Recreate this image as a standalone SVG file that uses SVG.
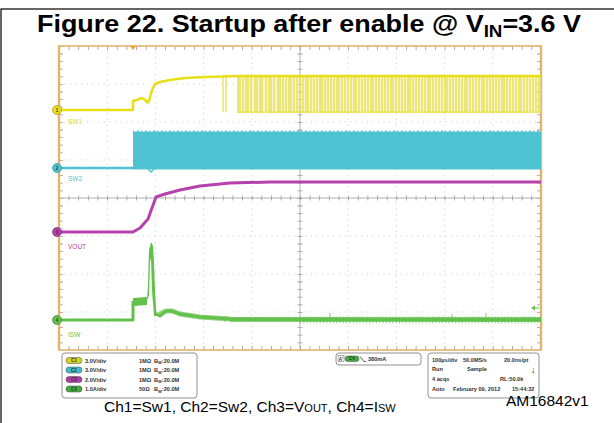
<svg xmlns="http://www.w3.org/2000/svg" width="614" height="423" viewBox="0 0 614 423">
<style>
.t{font-family:"Liberation Sans",Arial,sans-serif}
.lg{font-family:"Liberation Sans",Arial,sans-serif;font-size:5.6px;font-weight:bold;fill:#333}
.grid{stroke:#b8b8b8;stroke-width:0.8;stroke-dasharray:0.9 4.7;fill:none}
.tick{stroke:#9a9a9a;fill:none}
.pill{stroke:#444;stroke-width:0.5}
.pt{font-family:"Liberation Sans",Arial,sans-serif;font-size:4.5px;font-weight:bold;fill:#333;text-anchor:middle}
.box{fill:#fff;stroke:#777;stroke-width:0.8}
</style>
<rect width="614" height="423" fill="#fff"/>
<rect x="1" y="9" width="640" height="440" fill="none" stroke="#000" stroke-width="1.2"/>
<text class="t" x="309" y="32" font-size="23" font-weight="bold" text-anchor="middle" textLength="544" lengthAdjust="spacingAndGlyphs">Figure 22. Startup after enable @ V<tspan font-size="16" dy="5">IN</tspan><tspan dy="-5">=3.6 V</tspan></text>

<g id="plot">
  <rect x="59" y="46" width="482" height="304" fill="#fff"/>
  <g id="grid">
    <path class="grid" d="M107.2,46V350M155.4,46V350M203.6,46V350M251.8,46V350M348.2,46V350M396.4,46V350M444.6,46V350M492.8,46V350"/>
    <path class="grid" d="M59,84H541M59,122H541M59,160H541M59,236H541M59,274H541M59,312H541"/>
    <path d="M300,46V350M59,198H541" stroke="#a0a0a0" stroke-width="0.8"/>
    <path class="tick" d="M300,46V350" stroke-width="5" stroke-dasharray="0.8 6.8"/>
    <path class="tick" d="M59,198H541" stroke-width="5" stroke-dasharray="0.8 8.84"/>
    <path class="tick" d="M59,48H541M59,348H541" stroke-width="4" stroke-dasharray="0.8 8.84"/>
    <path class="tick" d="M61,46V350M539,46V350" stroke-width="4" stroke-dasharray="0.8 6.8"/>
  </g>
  <rect x="59" y="46" width="482" height="304" fill="none" stroke="#e2b56c" stroke-width="1.6"/>
  <path d="M59,46V350M541,46V350" stroke="#e2b56c" stroke-width="2.4"/>
  <path d="M130,46H136L133,50Z" fill="#f0a030"/>
</g>

<g id="ch1">
  <rect x="237" y="77" width="304" height="36" fill="#f3efa6" opacity="0.55"/>
  <path d="M223,77V112M226,77V112M238,77V113M240,77V113M243,77V113M246,77V113M248,77V113M251,77V113M255,77V113M257,77V113M260,77V113M262,77V113M266,77V113M269,77V113M271,77V113M274,77V113M278,77V113M280,77V113M283,77V113M286,77V113M289,77V113M291,77V113M294,77V113M297,77V113M300,77V113M303,77V113M306,77V113M308,77V113M311,77V113M314,77V113M317,77V113M320,77V113M322,77V113M325,77V113M328,77V113M331,77V113M334,77V113M337,77V113M339,77V113M342,77V113M345,77V113M348,77V113M351,77V113M354,77V113M356,77V113M359,77V113M362,77V113M365,77V113M368,77V113M371,77V113M373,77V113M376,77V113M379,77V113M382,77V113M385,77V113M388,77V113M391,77V113M393,77V113M396,77V113M399,77V113M402,77V113M405,77V113M408,77V113M410,77V113M413,77V113M416,77V113M419,77V113M422,77V113M425,77V113M428,77V113M430,77V113M433,77V113M436,77V113M439,77V113M442,77V113M445,77V113M447,77V113M450,77V113M453,77V113M456,77V113M459,77V113M462,77V113M465,77V113M467,77V113M470,77V113M473,77V113M476,77V113M479,77V113M482,77V113M484,77V113M487,77V113M490,77V113M493,77V113M496,77V113M499,77V113M502,77V113M504,77V113M507,77V113M510,77V113M513,77V113M516,77V113M519,77V113M521,77V113M524,77V113M527,77V113M530,77V113M533,77V113M536,77V113M539,77V113" stroke="#e2d92a" stroke-width="1.2" opacity="0.85"/>
  <path d="M238,112H541" stroke="#e8df1a" stroke-width="1.4" stroke-dasharray="2 1" opacity="0.8"/>
  <path d="M59,110L133,110L133,101L137,100L141,98L144,99L147,102L149,101L152,90L155,84L160,82L170,80L185,78L205,77L240,76L541,76" fill="none" stroke="#e8df1a" stroke-width="2.6" stroke-linejoin="round"/>
  <path d="M147,100V105M149,100V104" stroke="#e8df1a" stroke-width="0.8"/>
  <circle cx="57" cy="110" r="4.5" fill="#e8df1a" stroke="#8a8420" stroke-width="0.6"/>
  <text class="pt" x="57" y="111.7">1</text>
  <text class="t" x="68" y="124" font-size="6.5" fill="#e0d630">SW1</text>
</g>

<g id="ch2">
  <path d="M59,168H133" stroke="#4fc3d1" stroke-width="2.6"/>
  <rect x="133" y="131.5" width="408" height="38" fill="#4fc3d1"/>
  <path d="M133,131H541" stroke="#4fc3d1" stroke-width="1.5" stroke-dasharray="1 3 2 2" opacity="0.8"/>
  <path d="M148,133L151,136L154,133M148,169L151,172L154,169" fill="none" stroke="#4fc3d1" stroke-width="1.5"/>
  <circle cx="57" cy="168" r="4.5" fill="#4fc3d1" stroke="#2a7f88" stroke-width="0.6"/>
  <text class="pt" x="57" y="169.7">2</text>
  <text class="t" x="68" y="181" font-size="6.5" fill="#4fc3d1">SW2</text>
</g>

<g id="ch3">
  <path d="M59,232L133,232L140,228L148,219L152,208L156,197L165,194L180,190L200,186L230,183L270,182L541,182" fill="none" stroke="#b640ac" stroke-width="3" stroke-linejoin="round"/>
  <circle cx="57" cy="232" r="4.5" fill="#b640ac" stroke="#6e2266" stroke-width="0.6"/>
  <text class="pt" x="57" y="233.7">3</text>
  <text class="t" x="68" y="249" font-size="6.5" fill="#b640ac">VOUT</text>
</g>

<g id="ch4">
  <path d="M133,298L147,297L147,305L133,306Z" fill="#62c14a"/>
  <path d="M147,300L148,285L149,250L151,242L153,246L154,262L155,290L156,308L157,316L154,316L152,290L151,258L150,262L149,296Z" fill="#62c14a"/>
  <path d="M59,320L133,320L133,301M156,314L160,316L166,311L172,311L180,314L200,317L230,319L541,320" fill="none" stroke="#62c14a" stroke-width="3" stroke-linejoin="round"/>
  <path d="M158,315L166,311L172,311L180,314L200,317L230,319" fill="none" stroke="#62c14a" stroke-width="5" stroke-linejoin="round" opacity="0.7"/>
  <path d="M230,319.5H541" stroke="#62c14a" stroke-width="4.5"/>
  <path d="M300,320H541" stroke="#62c14a" stroke-width="7" stroke-dasharray="1 2.3" opacity="0.6"/>
  <path d="M225,316V322M330,313V322M452,314V322M486,313V322" stroke="#62c14a" stroke-width="0.8"/>
  <path d="M531,308L535,305.5V310.5Z" fill="#62c14a"/>
  <path d="M534,308H539" stroke="#62c14a" stroke-width="1"/>
  <circle cx="57" cy="320" r="4.5" fill="#62c14a" stroke="#2f7a22" stroke-width="0.6"/>
  <text class="pt" x="57" y="321.7">4</text>
  <text class="t" x="68" y="337" font-size="6.5" fill="#62c14a">ISW</text>
</g>

<g id="legend">
  <rect class="box" x="62" y="353" width="135" height="45" rx="3"/>
  <rect class="pill" x="66" y="357.5" width="16" height="6" rx="3" fill="#d7d22a"/>
  <rect class="pill" x="66" y="367" width="16" height="6" rx="3" fill="#3fbfcc"/>
  <rect class="pill" x="66" y="376.5" width="16" height="6" rx="3" fill="#b23aa6"/>
  <rect class="pill" x="66" y="386" width="16" height="6" rx="3" fill="#3fae3c"/>
  <text class="pt" x="74" y="362">C1</text>
  <text class="pt" x="74" y="371.5">C2</text>
  <text class="pt" x="74" y="381">C3</text>
  <text class="pt" x="74" y="390.5">C4</text>
  <text class="lg" x="85" y="362.5">3.0V/div</text>
  <text class="lg" x="85" y="372">3.0V/div</text>
  <text class="lg" x="85" y="381.5">2.0V/div</text>
  <text class="lg" x="85" y="391">1.0A/div</text>
  <text class="lg" x="139" y="362.5">1MΩ</text>
  <text class="lg" x="139" y="372">1MΩ</text>
  <text class="lg" x="139" y="381.5">1MΩ</text>
  <text class="lg" x="139" y="391">50Ω</text>
  <text class="lg" x="154" y="362.5">B<tspan font-size="4" dy="1.5">W</tspan><tspan dy="-1.5">:20.0M</tspan></text>
  <text class="lg" x="154" y="372">B<tspan font-size="4" dy="1.5">W</tspan><tspan dy="-1.5">:20.0M</tspan></text>
  <text class="lg" x="154" y="381.5">B<tspan font-size="4" dy="1.5">W</tspan><tspan dy="-1.5">:20.0M</tspan></text>
  <text class="lg" x="154" y="391">B<tspan font-size="4" dy="1.5">W</tspan><tspan dy="-1.5">:20.0M</tspan></text>
</g>

<g id="trigger">
  <rect class="box" x="336" y="353" width="85" height="12" rx="3"/>
  <rect x="338" y="355.5" width="6" height="6" fill="#fff" stroke="#666" stroke-width="0.5"/>
  <text class="pt" x="341" y="360.5">A'</text>
  <rect class="pill" x="345" y="356" width="14" height="5.5" rx="2.75" fill="#3fae3c"/>
  <text class="pt" x="352" y="360.3">C4</text>
  <path d="M360,356.5L364,361.5H366" fill="none" stroke="#333" stroke-width="0.8"/>
  <text class="lg" x="368" y="361">380mA</text>
</g>

<g id="timebase">
  <rect class="box" x="428" y="353" width="111" height="45" rx="3"/>
  <text class="lg" x="432" y="361.5">100µs/div</text>
  <text class="lg" x="463" y="361.5">50.0MS/s</text>
  <text class="lg" x="504" y="361.5">20.0ns/pt</text>
  <text class="lg" x="432" y="371">Run</text>
  <text class="lg" x="467" y="371">Sample</text>
  <text class="t" x="531" y="373" font-size="9" font-weight="bold" fill="#222">↓</text>
  <text class="lg" x="432" y="381">4 acqs</text>
  <text class="lg" x="500" y="381">RL:50.0k</text>
  <text class="lg" x="432" y="391">Auto</text>
  <text class="lg" x="453" y="391">February 09, 2012</text>
  <text class="lg" x="512" y="391">15:44:32</text>
</g>

<text class="t" x="104" y="412" font-size="15.5" fill="#000">Ch1=Sw1, Ch2=Sw2, Ch3=V<tspan font-size="11">OUT</tspan>, Ch4=I<tspan font-size="11">SW</tspan></text>
<text class="t" x="506" y="406" font-size="15.5" fill="#000">AM16842v1</text>
</svg>
